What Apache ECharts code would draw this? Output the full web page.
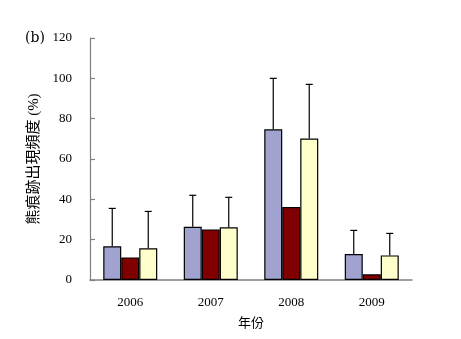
<!DOCTYPE html>
<html><head><meta charset="utf-8">
<script src="https://cdn.jsdelivr.net/npm/echarts@6/dist/echarts.min.js"></script>
<style>html,body{margin:0;padding:0;background:#fff}#c{width:461px;height:339px}</style>
</head><body><div id="c"></div>
<script>
const categories = ['2006', '2007', '2008', '2009'];
const seriesA = [16.7, 26.4, 74.7, 12.9];
const seriesB = [11.2, 25.1, 36.2, 2.8];
const seriesC = [15.7, 26.1, 70.2, 12.2];
const errorTopA = [35.5, 42, 100, 24.6];
const errorTopC = [34, 41, 97, 23.1];
const yTicks = [0, 20, 40, 60, 80, 100, 120];

const chart = echarts.init(document.getElementById('c'));
const font = '"Liberation Serif", "Noto Sans CJK TC", serif';
const BW = 18;
function errSeries(vals, tops, offset) {
  return {
    type: 'custom',
    data: vals.map((v, i) => [i, v, tops[i]]),
    renderItem: function (params, api) {
      const i = api.value(0);
      const p0 = api.coord([i, api.value(1)]);
      const p1 = api.coord([i, api.value(2)]);
      const x = p0[0] + offset;
      return {
        type: 'group',
        children: [
          {type: 'line', shape: {x1: x, y1: p0[1], x2: x, y2: p1[1]}, style: {stroke: '#000', lineWidth: 1.2}},
          {type: 'line', shape: {x1: x - 3.5, y1: p1[1], x2: x + 3.5, y2: p1[1]}, style: {stroke: '#000', lineWidth: 1.2}}
        ]
      };
    },
    z: 5
  };
}
const barStyle = c => ({color: c, borderColor: '#000', borderWidth: 1.2});
chart.setOption({
  animation: false,
  backgroundColor: '#fff',
  graphic: [{type: 'text', left: 25, top: 31, style: {text: '(b)', font: '14px "DejaVu Serif", serif', fill: '#000'}}],
  grid: {left: 90, top: 38, right: 49, bottom: 59},
  xAxis: {
    type: 'category', data: categories,
    name: '年份', nameLocation: 'middle', nameGap: 37,
    nameTextStyle: {fontFamily: font, fontSize: 13, color: '#000'},
    axisLine: {lineStyle: {color: '#808080', width: 1.5}},
    axisTick: {inside: true, length: 4, lineStyle: {color: '#808080', width: 1.5}},
    axisLabel: {fontFamily: font, fontSize: 13, color: '#000', margin: 16}
  },
  yAxis: {
    type: 'value', min: 0, max: 120, interval: 20,
    name: '熊痕跡出現頻度 (%)', nameLocation: 'middle', nameGap: 42, nameRotate: 90,
    nameTextStyle: {fontFamily: font, fontSize: 15, color: '#000'},
    axisLine: {show: true, lineStyle: {color: '#808080', width: 1.2}},
    axisTick: {show: true, inside: true, length: 5, lineStyle: {color: '#808080', width: 1.2}},
    axisLabel: {fontFamily: font, fontSize: 13, color: '#000', margin: 18,
      formatter: v => yTicks.includes(v) ? String(v) : ''},
    splitLine: {show: false}
  },
  series: [
    {type: 'bar', data: seriesA, barWidth: BW, barGap: '0%', itemStyle: barStyle('#A0A2D0')},
    {type: 'bar', data: seriesB, barWidth: BW, barGap: '0%', itemStyle: barStyle('#800000')},
    {type: 'bar', data: seriesC, barWidth: BW, barGap: '0%', itemStyle: barStyle('#FFFFCC')},
    errSeries(seriesA, errorTopA, -BW),
    errSeries(seriesC, errorTopC, BW)
  ]
});
</script></body></html>
